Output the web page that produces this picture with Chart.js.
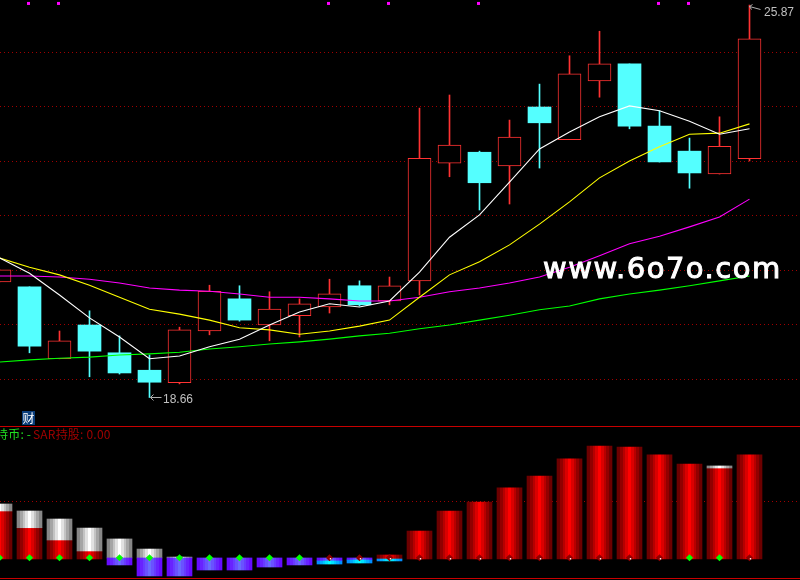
<!DOCTYPE html>
<html><head><meta charset="utf-8">
<style>html,body{margin:0;padding:0;background:#000;overflow:hidden}canvas{display:block}</style>
<script src="https://cdn.jsdelivr.net/npm/chart.js@4/dist/chart.umd.min.js"></script>
</head><body><canvas id="c" width="800" height="580"></canvas>
<script>
const opens  = [20.79,20.70,19.38,20.00,19.49,19.17,18.94,19.89,20.48,20.00,20.17,20.33,20.72,20.44,20.81,22.97,23.17,22.92,24.00,23.40,24.48,24.79,23.65,23.19,22.77,23.05];
const closes = [21.01,19.61,19.71,19.52,19.12,18.95,19.91,20.62,20.09,20.29,20.39,20.57,20.37,20.72,23.06,23.30,22.61,23.45,23.71,24.61,24.79,23.65,22.99,22.79,23.28,25.25];
const highs  = [21.01,20.70,19.89,20.26,19.80,19.45,19.96,20.73,20.72,20.61,20.48,20.84,20.81,20.88,23.98,24.22,23.19,23.76,24.42,24.94,25.39,24.79,23.93,23.43,23.82,25.87];
const lows   = [20.79,19.49,19.38,19.05,19.10,18.67,18.92,19.82,20.07,19.71,19.78,20.22,20.35,20.37,20.55,22.72,22.11,22.22,22.88,23.40,24.18,23.60,22.99,22.51,22.77,23.01];
const maWhite   = [21.23,20.95,20.55,20.13,19.78,19.38,19.43,19.60,19.74,20.00,20.24,20.39,20.33,20.44,20.97,21.61,22.02,22.62,23.23,23.54,23.82,24.02,23.93,23.74,23.50,23.60];
const maYellow  = [21.23,21.06,20.92,20.73,20.51,20.29,20.20,20.09,19.95,19.91,19.83,19.89,19.98,20.09,20.51,20.92,21.16,21.47,21.85,22.26,22.70,23.01,23.27,23.50,23.52,23.69];
const maMagenta = [20.90,20.90,20.88,20.84,20.77,20.68,20.64,20.62,20.57,20.51,20.51,20.48,20.44,20.44,20.51,20.61,20.68,20.77,20.88,21.06,21.27,21.49,21.63,21.80,21.98,22.31];
const maGreen   = [19.32,19.36,19.39,19.41,19.45,19.47,19.50,19.56,19.60,19.65,19.69,19.74,19.80,19.85,19.93,20.00,20.09,20.18,20.28,20.35,20.48,20.57,20.64,20.72,20.81,20.90];
const priceTicks = [19,20,21,22,23,24,25];
const topMarks = [1,2,11,13,16,22,23];
const topMarkLevel = 25.90;

const N = null;
const redBases  = [0,0,0,0,N,N,N,N,N,N,N,N,N,0,0,0,0,0,0,0,0,0,0,0,0,0];
const redTops   = [41.9,27.3,16.6,7.0,N,N,N,N,N,N,N,N,N,3.5,24.4,41.9,49.7,62,72.4,87.3,98.6,97.7,90.8,82.9,79.4,90.8];
const grayBases = [41.9,27.3,16.6,7.0,0.9,0.9,0.9,N,N,N,N,N,N,N,N,N,N,N,N,N,N,N,N,N,79.4,N];
const grayTops  = [48,41.9,34.9,27,17.5,8.7,1.7,N,N,N,N,N,N,N,N,N,N,N,N,N,N,N,N,N,81.2,N];
const purpleTops = [N,N,N,N,0.9,0.9,0.9,0.9,0.9,0.9,0.9,0.9,0.9,N,N,N,N,N,N,N,N,N,N,N,N,N];
const purpleLows = [N,N,N,N,-5.2,-14.8,-14.8,-9.6,-9.6,-7,-5.2,-1.7,-0.9,N,N,N,N,N,N,N,N,N,N,N,N,N];
const cyanTops = [N,N,N,N,N,N,N,N,N,N,N,-1.7,-0.9,0,N,N,N,N,N,N,N,N,N,N,N,N];
const cyanLows = [N,N,N,N,N,N,N,N,N,N,N,-4.4,-3.5,-1.7,N,N,N,N,N,N,N,N,N,N,N,N];
const signalGreen = [0,1,2,3,4,5,6,7,8,9,10,23,24];
const signalDark  = [11,12,13,14,15,16,17,18,19,20,21,22,25];
const signalLevel = 1.1;
const panelTicks = [50];
const panelRules = [115.6,-17];

const lowLabel = '18.66', highLabel = '25.87';
const holdCashText = '持币: -', holdStockText = 'SAR持股: 0.00', finText = '财', siteText = 'www.6o7o.com';

const idx = opens.map((_, i) => i);
const spans = (lo, hi) => idx.filter(i => lo[i] !== null && hi[i] !== null).map(i => ({x: i, y: [lo[i], hi[i]]}));
const series = vals => vals.map((y, i) => ({x: i, y}));
const upIdx = idx.filter(i => closes[i] > opens[i]);
const dnIdx = idx.filter(i => closes[i] <= opens[i]);
const pick = (list, a, b) => list.map(i => ({x: i, y: [a[i], b[i]]}));

const C_UP = '#ff3232', C_DN = '#54ffff';

function band(edge, mid) {
  return function (c) {
    const chart = c.chart, raw = c.raw;
    const px = raw && chart.scales.x ? chart.scales.x.getPixelForValue(raw.x) : NaN;
    if (!Number.isFinite(px)) return `rgb(${edge})`;
    const hw = 12.5;
    const g = chart.ctx.createLinearGradient(px - hw, 0, px + hw, 0);
    const n = 9;
    for (let k = 0; k < n; k++) {
      const t = 1 - Math.abs((k + 0.5) / n - 0.5) * 2;
      const col = edge.map((e, j) => Math.round(e + (mid[j] - e) * t));
      g.addColorStop(k / n, `rgb(${col})`);
      g.addColorStop((k + 1) / n, `rgb(${col})`);
    }
    return g;
  };
}
const barBase = {type: 'bar', grouped: false, barPercentage: 1, categoryPercentage: 1, borderWidth: 0};
const lineBase = {type: 'line', pointRadius: 0, borderWidth: 1.1, tension: 0, fill: false, order: 1, yAxisID: 'y'};

const decorate = {
  id: 'decorate',
  afterDatasetsDraw(chart) {
    const {ctx, scales: {x, y}} = chart;
    ctx.save();
    ctx.strokeStyle = '#b0b0b0'; ctx.fillStyle = '#c0c0c0'; ctx.lineWidth = 1;
    ctx.font = '12px "Liberation Sans"'; ctx.textBaseline = 'alphabetic';
    const lx = Math.round(x.getPixelForValue(5)) + 0.5, ly = Math.round(y.getPixelForValue(lows[5])) + 0.5;
    ctx.beginPath(); ctx.moveTo(lx, ly); ctx.lineTo(lx + 11, ly);
    ctx.moveTo(lx, ly); ctx.lineTo(lx + 3, ly - 3); ctx.moveTo(lx, ly); ctx.lineTo(lx + 3, ly + 3); ctx.stroke();
    ctx.fillText(lowLabel, lx + 12.5, ly + 5);
    const hx = Math.round(x.getPixelForValue(25)) - 0.5, hy = Math.round(y.getPixelForValue(highs[25])) + 1.5;
    ctx.beginPath(); ctx.moveTo(hx, hy); ctx.lineTo(hx + 11, hy + 3);
    ctx.moveTo(hx, hy); ctx.lineTo(hx + 3, hy - 2); ctx.moveTo(hx, hy); ctx.lineTo(hx + 2, hy + 3); ctx.stroke();
    ctx.fillText(highLabel, hx + 14.5, hy + 9);
    ctx.font = '12px "Noto Sans CJK SC"';
    ctx.letterSpacing = '0.2px';
    ctx.fillStyle = '#20e020'; ctx.fillText(holdCashText, -4, 439);
    ctx.fillStyle = '#a00000'; ctx.fillText(holdStockText, 33, 439);
    ctx.letterSpacing = '0px';
    ctx.fillStyle = '#0a3d7a'; ctx.fillRect(22, 411, 13, 14);
    ctx.fillStyle = '#ffffff'; ctx.fillText(finText, 22.5, 423);
    ctx.font = '29px "DejaVu Sans"'; ctx.fillStyle = '#ffffff'; ctx.strokeStyle = '#ffffff'; ctx.lineWidth = 1;
    ctx.letterSpacing = '1.5px';
    ctx.fillText(siteText, 543, 278); ctx.strokeText(siteText, 543, 278);
    ctx.restore();
  }
};

new Chart(document.getElementById('c'), {
  type: 'bar',
  plugins: [decorate],
  data: {datasets: [
    {...lineBase, data: series(maWhite), borderColor: '#ffffff', order: 2},
    {...lineBase, data: series(maYellow), borderColor: '#ffff00', order: 3},
    {...lineBase, data: series(maMagenta), borderColor: '#ff00ff', order: 4},
    {...lineBase, data: series(maGreen), borderColor: '#00ff00', order: 5},
    {...barBase, data: pick(upIdx, opens, closes), barThickness: 23, backgroundColor: '#000000', borderColor: C_UP, borderWidth: 1, borderSkipped: false, order: 6},
    {...barBase, data: pick(dnIdx, opens, closes), barThickness: 23, backgroundColor: C_DN, order: 7},
    {...barBase, data: pick(upIdx, lows, highs), barThickness: 1, backgroundColor: C_UP, order: 8},
    {...barBase, data: pick(dnIdx, lows, highs), barThickness: 1, backgroundColor: C_DN, order: 9},
    {type: 'line', showLine: false, yAxisID: 'y', data: topMarks.map(i => ({x: i - 1 / 30, y: topMarkLevel})), pointStyle: 'rect', pointRadius: 2.13, pointBorderWidth: 0, pointBackgroundColor: '#ff00ff', order: 1},
    {...barBase, yAxisID: 'yv', data: spans(redBases, redTops), barThickness: 25, backgroundColor: band([90,0,0],[255,0,0]), order: 24},
    {...barBase, yAxisID: 'yv', data: spans(grayBases, grayTops), barThickness: 25, backgroundColor: band([120,120,120],[255,255,255]), order: 23},
    {...barBase, yAxisID: 'yv', data: spans(purpleLows, purpleTops), barThickness: 25, backgroundColor: band([102,0,255],[106,106,255]), order: 22},
    {...barBase, yAxisID: 'yv', data: spans(cyanLows, cyanTops), barThickness: 25, backgroundColor: band([0,128,255],[0,255,255]), order: 21},
    {type: 'line', showLine: false, yAxisID: 'yv', data: signalGreen.map(i => ({x: i, y: signalLevel})), pointStyle: 'rectRot', pointRadius: 3.6, pointBorderWidth: 0, pointBackgroundColor: '#00ff00', order: 12},
    {type: 'line', showLine: false, yAxisID: 'yv', data: signalDark.map(i => ({x: i, y: signalLevel})), pointStyle: 'rectRot', pointRadius: 3.6, pointBorderWidth: 0, pointBackgroundColor: '#8c0000', order: 11},
    {type: 'line', showLine: false, yAxisID: 'yv', data: signalDark.map(i => ({x: i + 1 / 30, y: signalLevel - 0.9})), pointStyle: 'rect', pointRadius: 1, pointBorderWidth: 0, pointBackgroundColor: '#ffffff', order: 10}
  ]},
  options: {
    responsive: false, animation: false, events: [], devicePixelRatio: 1,
    layout: {padding: 0, autoPadding: false},
    plugins: {legend: {display: false}, tooltip: {enabled: false}},
    scales: {
      x: {type: 'linear', display: false, offset: false, min: 0.5 / 30, max: 800.5 / 30, grid: {offset: false}},
      y: {position: 'left', min: 15.3211, max: 25.9633,
          afterBuildTicks(a) { a.ticks = priceTicks.map(value => ({value})); },
          ticks: {display: false}, border: {display: false, dash: [1, 3]},
          grid: {color: '#a00000', lineWidth: 1, drawTicks: false}},
      yv: {position: 'right', min: -18.325, max: 487.78,
          afterBuildTicks(a) { a.ticks = panelTicks.map(value => ({value})); },
          ticks: {display: false}, border: {display: false, dash: [1, 3]},
          grid: {color: '#a00000', lineWidth: 1, drawTicks: false}},
      yr: {position: 'right', min: -18.325, max: 487.78,
          afterBuildTicks(a) { a.ticks = panelRules.map(value => ({value})); },
          ticks: {display: false}, border: {display: false},
          grid: {color: '#c80000', lineWidth: 1, drawTicks: false}}
    }
  }
});
</script></body></html>
